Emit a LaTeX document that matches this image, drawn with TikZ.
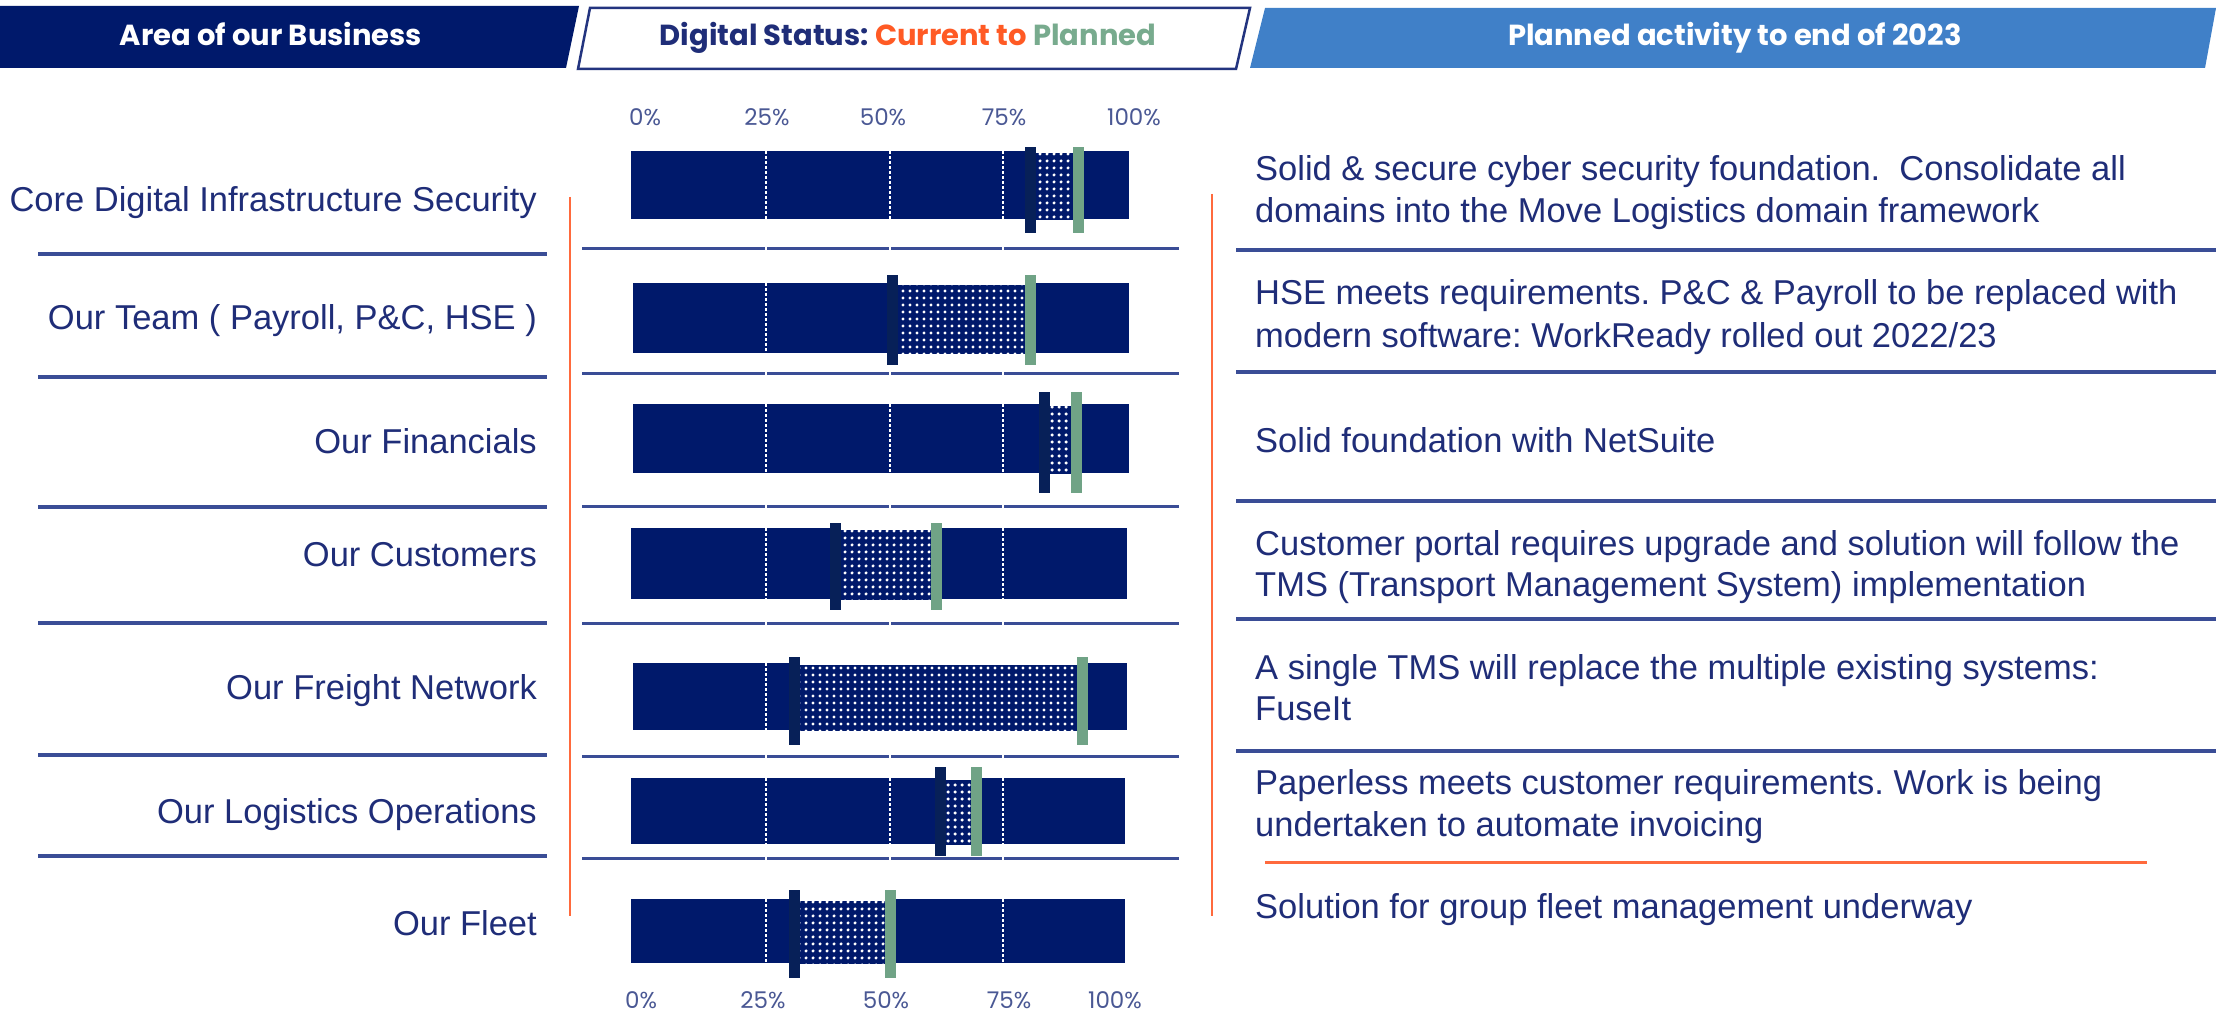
\documentclass[tikz,border=0pt]{standalone}
\usepackage{fontspec}
\setmainfont{Liberation Sans}
\newfontfamily\popfont{Poppins}
\usetikzlibrary{patterns.meta}
\frenchspacing
\definecolor{navy}{HTML}{00196B}
\definecolor{hdrnavy}{HTML}{00196B}
\definecolor{darkmark}{HTML}{072058}
\definecolor{greenmark}{HTML}{70A386}
\definecolor{orangeline}{HTML}{FF6A3D}
\definecolor{txtblue}{HTML}{1F2D78}
\definecolor{sepblue}{HTML}{3A4D96}
\definecolor{hdrblue}{HTML}{4080C8}
\definecolor{pctblue}{HTML}{4A5894}
\definecolor{curorange}{HTML}{FF5A24}
\definecolor{plangreen}{HTML}{78AB8E}
\definecolor{boxline}{HTML}{23347F}
\newcommand\statbar[8]{%
  % #1 top #2 bottom #3 left #4 right #5 dark-left #6 green-left #7 marker top #8 marker bottom
  \fill[navy] (#3,#1) rectangle (#4,#2);
  \foreach \gx in {766,890,1003} \draw[gridl] (\gx,#1) -- (\gx,#2);
  \fill[white] (#5+11,#1) rectangle (#6,#2+2);
  \fill[navy] (#5+11,#1+2) rectangle (#6,#2+1);
  \fill[dotpat] (#5+11,#1+2) rectangle (#6,#2+1);
  \fill[darkmark] (#5,#7) rectangle (#5+11,#8);
  \fill[greenmark] (#6,#7) rectangle (#6+11,#8);
}
\begin{document}
\begin{tikzpicture}[x=1pt,y=-1pt,
  lbl/.style={font=\fontsize{34.5}{40}\selectfont, text=txtblue, anchor=base east, inner sep=0pt},
  act/.style={font=\fontsize{34.5}{40}\selectfont, text=txtblue, anchor=base west, inner sep=0pt},
  pct/.style={font=\popfont\fontsize{23}{26}\selectfont, text=pctblue, inner sep=0pt},
  hdr/.style={font=\popfont\bfseries\fontsize{29}{32}\selectfont, inner sep=0pt, anchor=base},
  sep/.style={draw=sepblue, line width=3.5pt},
  msep/.style={draw=sepblue, line width=3pt},
  oline/.style={draw=orangeline, line width=2.5pt},
  gridl/.style={draw=white, line width=1.3pt, dash pattern=on 3pt off 2pt},
  dotpat/.style={pattern={Dots[radius=1.8pt,distance=6.5pt]}, pattern color=white}
]
\useasboundingbox (0,0) rectangle (2216,1016);
\fill[white] (0,0) rectangle (2216,1016);

% header
\fill[hdrnavy] (0,6) -- (579,6) -- (566,68) -- (0,68) -- cycle;
\draw[boxline, line width=2.5pt, fill=white] (590,8) -- (1250,8) -- (1236,69) -- (578,69) -- cycle;
\fill[hdrblue] (1265,8) -- (2216,8) -- (2205,68) -- (1250,68) -- cycle;
\node[hdr, text=white] (h1) at (271,46) {Area of our Business};
\node[hdr, text=txtblue] (h2) at (908,46) {Digital Status: \textcolor{curorange}{Current to} \textcolor{plangreen}{Planned}};
\node[hdr, text=white] (h3) at (1735,46) {Planned activity to end of 2023};

% percent labels
\node[pct] (pt0) at (645,117) {0\%};
\node[pct] (pt25) at (767,117) {25\%};
\node[pct] (pt50) at (883,117) {50\%};
\node[pct] (pt75) at (1004,117) {75\%};
\node[pct] (pt100) at (1134,117) {100\%};
\node[pct] (pb0) at (641,1000) {0\%};
\node[pct] (pb25) at (763,1000) {25\%};
\node[pct] (pb50) at (886,1000) {50\%};
\node[pct] (pb75) at (1009,1000) {75\%};
\node[pct] (pb100) at (1115,1000) {100\%};

% separators
\foreach \yy in {254,377,507,623,755,856} \draw[sep] (38,\yy) -- (547,\yy);
\foreach \yy in {249,373,506,623,756,858} {
  \draw[msep] (582,\yy) -- (765,\yy);
  \draw[msep] (767,\yy) -- (889,\yy);
  \draw[msep] (891,\yy) -- (1002,\yy);
  \draw[msep] (1004,\yy) -- (1179,\yy);
}
\foreach \yy in {250,372,501,619,751} \draw[sep] (1236,\yy) -- (2216,\yy);
\draw[draw=orangeline, line width=3pt] (1265,862) -- (2147,862);
\draw[oline] (570,197) -- (570,916);
\draw[oline] (1212,194) -- (1212,916);

% bars
\statbar{151}{219}{631}{1129}{1025}{1073}{147}{233}
\statbar{283}{353}{633}{1129}{887}{1025}{275}{365}
\statbar{404}{473}{633}{1129}{1039}{1071}{392}{493}
\statbar{528}{599}{631}{1127}{830}{931}{523}{610}
\statbar{663}{730}{633}{1127}{789}{1077}{657}{745}
\statbar{778}{844}{631}{1125}{935}{971}{767}{856}
\statbar{899}{963}{631}{1125}{789}{885}{890}{978}

% left labels
\node[lbl] (l1) at (537,212) {Core Digital Infrastructure Security};
\node[lbl] (l2) at (537,329) {Our Team ( Payroll, P\&C, HSE )};
\node[lbl] (l3) at (537,453) {Our Financials};
\node[lbl] (l4) at (537,566) {Our Customers};
\node[lbl] (l5) at (537,699) {Our Freight Network};
\node[lbl] (l6) at (537,823) {Our Logistics Operations};
\node[lbl] (l7) at (537,935) {Our Fleet};

% right activity texts
\node[act] (a1a) at (1255,181) {Solid \& secure cyber security foundation.\ \ Consolidate all};
\node[act] (a1b) at (1255,223) {domains into the Move Logistics domain framework};
\node[act] (a2a) at (1255,305) {HSE meets requirements. P\&C \& Payroll to be replaced with};
\node[act] (a2b) at (1255,347) {modern software: WorkReady rolled out 2022/23};
\node[act] (a3) at (1255,452) {Solid foundation with NetSuite};
\node[act] (a4a) at (1255,555) {Customer portal requires upgrade and solution will follow the};
\node[act] (a4b) at (1255,596) {TMS (Transport Management System) implementation};
\node[act] (a5a) at (1255,679) {A single TMS will replace the multiple existing systems:};
\node[act] (a5b) at (1255,720) {FuseIt};
\node[act] (a6a) at (1255,794) {Paperless meets customer requirements. Work is being};
\node[act] (a6b) at (1255,836) {undertaken to automate invoicing};
\node[act] (a7) at (1255,918) {Solution for group fleet management underway};
\end{tikzpicture}
\end{document}
